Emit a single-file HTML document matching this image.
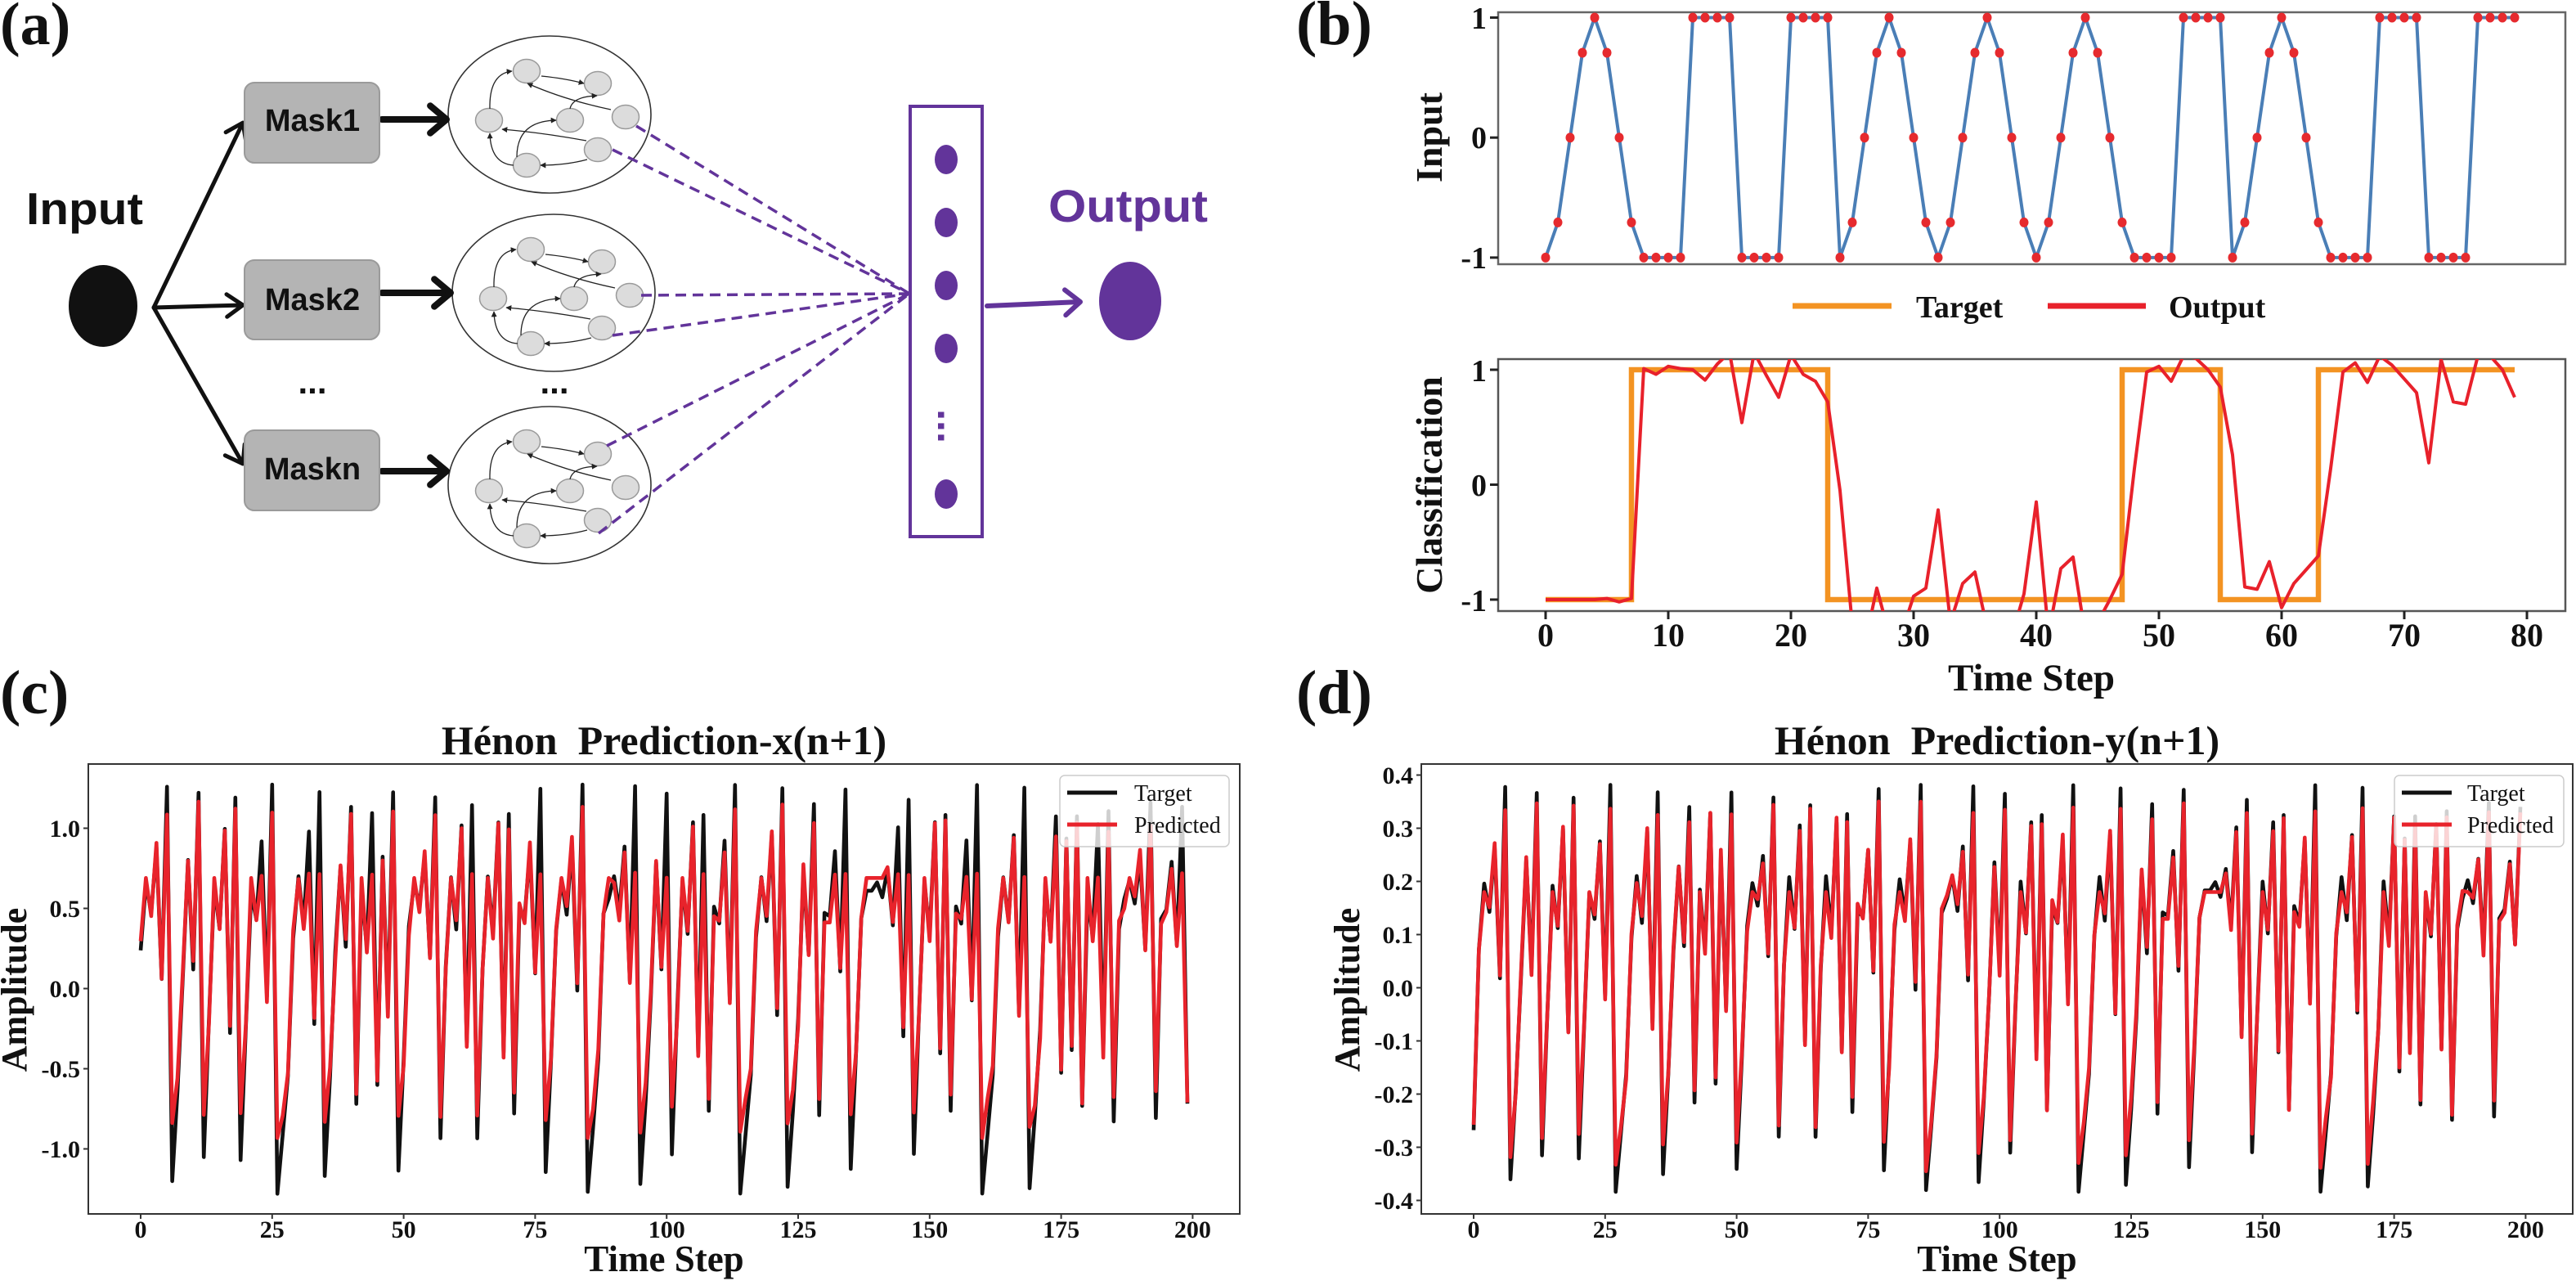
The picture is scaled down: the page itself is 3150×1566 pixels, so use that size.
<!DOCTYPE html>
<html><head><meta charset="utf-8"><title>Figure</title>
<style>
html,body{margin:0;padding:0;background:#fff;width:3150px;height:1566px;overflow:hidden}
svg{display:block}
.tb{font-family:"Liberation Serif","Times New Roman",serif;font-weight:bold;fill:#111}
.tr{font-family:"Liberation Serif","Times New Roman",serif;font-weight:normal;fill:#111}
.sb{font-family:"Liberation Sans",Arial,sans-serif;font-weight:bold}
</style></head><body>
<svg id="s" xmlns="http://www.w3.org/2000/svg" width="3150" height="1566" viewBox="0 0 3150 1566">
<defs>
 <marker id="ah" viewBox="0 0 10 10" refX="9" refY="5" markerWidth="7" markerHeight="7" markerUnits="userSpaceOnUse" orient="auto"><path d="M0,0 L10,5 L0,10 z" fill="#222"/></marker>
 <clipPath id="cb2"><rect x="1832" y="439" width="1305" height="308"/></clipPath>
 <clipPath id="cc"><rect x="108" y="934" width="1408" height="550"/></clipPath>
 <clipPath id="cd"><rect x="1738" y="934" width="1408" height="550"/></clipPath>
</defs>
<rect width="3150" height="1566" fill="#fff"/>

<!-- ===== Panel (a) ===== -->
<g id="pa"></g>
<rect x="299" y="101" width="165" height="98" rx="12" fill="#b4b4b4" stroke="#9a9a9a" stroke-width="2"/>
<rect x="299" y="318" width="165" height="97" rx="12" fill="#b4b4b4" stroke="#9a9a9a" stroke-width="2"/>
<rect x="299" y="526" width="165" height="98" rx="12" fill="#b4b4b4" stroke="#9a9a9a" stroke-width="2"/>
<ellipse cx="126" cy="374" rx="42" ry="50" fill="#111"/>
<rect x="1113" y="130" width="88" height="526" fill="none" stroke="#62349a" stroke-width="4"/>
<ellipse cx="1157" cy="195" rx="14" ry="18" fill="#62349a"/>
<ellipse cx="1157" cy="272" rx="14" ry="18" fill="#62349a"/>
<ellipse cx="1157" cy="349" rx="14" ry="18" fill="#62349a"/>
<ellipse cx="1157" cy="426" rx="14" ry="18" fill="#62349a"/>
<ellipse cx="1157" cy="604" rx="14" ry="18" fill="#62349a"/>
<ellipse cx="1382" cy="368" rx="38" ry="48" fill="#62349a"/>

<text class="tb" x="0" y="54" font-size="74">(a)</text>
<text class="sb" x="32" y="274" font-size="55" fill="#111" textLength="143" lengthAdjust="spacingAndGlyphs">Input</text>
<text class="sb" x="382" y="160" font-size="38" fill="#111" text-anchor="middle">Mask1</text>
<text class="sb" x="382" y="379" font-size="38" fill="#111" text-anchor="middle">Mask2</text>
<text class="sb" x="382" y="586" font-size="38" fill="#111" text-anchor="middle">Maskn</text>
<text class="sb" x="382" y="481" font-size="42" fill="#111" text-anchor="middle">...</text>
<text class="sb" x="678" y="481" font-size="42" fill="#111" text-anchor="middle">...</text>
<text class="sb" font-size="50" fill="#62349a" text-anchor="middle" transform="translate(1147,521) rotate(90)">...</text>
<text class="sb" x="1282" y="271" font-size="56" fill="#62349a" textLength="195" lengthAdjust="spacingAndGlyphs">Output</text>

<!-- ===== Panel (b) ===== -->
<g id="pb"></g>
<text class="tb" x="1585" y="54" font-size="76">(b)</text>
<g class="tb" font-size="38" text-anchor="end">
 <text x="1818" y="35">1</text>
 <text x="1818" y="181">0</text>
 <text x="1818" y="328">-1</text>
 <text x="1818" y="466">1</text>
 <text x="1818" y="606">0</text>
 <text x="1818" y="747">-1</text>
</g>
<text class="tb" font-size="46" text-anchor="middle" transform="translate(1763,168) rotate(-90)">Input</text>
<text class="tb" font-size="46" text-anchor="middle" transform="translate(1763,593) rotate(-90)">Classification</text>
<text class="tb" x="2343" y="388" font-size="38">Target</text>
<text class="tb" x="2652" y="388" font-size="38">Output</text>
<g class="tb" font-size="40" text-anchor="middle">
 <text x="1890" y="790">0</text>
 <text x="2040" y="790">10</text>
 <text x="2190" y="790">20</text>
 <text x="2340" y="790">30</text>
 <text x="2490" y="790">40</text>
 <text x="2640" y="790">50</text>
 <text x="2790" y="790">60</text>
 <text x="2940" y="790">70</text>
 <text x="3090" y="790">80</text>
</g>
<text class="tb" x="2484" y="844" font-size="47" text-anchor="middle">Time Step</text>

<!-- ===== Panel (c) ===== -->
<g id="pc"></g>
<text class="tb" x="0" y="872" font-size="76">(c)</text>
<text class="tb" x="812" y="922" font-size="50" text-anchor="middle" style="white-space:pre">Hénon  Prediction-x(n+1)</text>
<g class="tb" font-size="30" text-anchor="middle">
 <text x="172" y="1513">0</text>
 <text x="332.8" y="1513">25</text>
 <text x="493.6" y="1513">50</text>
 <text x="654.4" y="1513">75</text>
 <text x="815.2" y="1513">100</text>
 <text x="976" y="1513">125</text>
 <text x="1136.8" y="1513">150</text>
 <text x="1297.6" y="1513">175</text>
 <text x="1458.4" y="1513">200</text>
</g>
<g class="tb" font-size="30" text-anchor="end">
 <text x="98" y="1023">1.0</text>
 <text x="98" y="1121">0.5</text>
 <text x="98" y="1219">0.0</text>
 <text x="98" y="1317">-0.5</text>
 <text x="98" y="1415">-1.0</text>
</g>
<text class="tb" font-size="44" text-anchor="middle" transform="translate(32,1210) rotate(-90)">Amplitude</text>
<text class="tb" x="812" y="1554" font-size="45" text-anchor="middle">Time Step</text>
<text class="tr" x="1387" y="979" font-size="28">Target</text>
<text class="tr" x="1387" y="1018" font-size="28">Predicted</text>

<!-- ===== Panel (d) ===== -->
<g id="pd"></g>
<text class="tb" x="1585" y="872" font-size="76">(d)</text>
<text class="tb" x="2442" y="922" font-size="50" text-anchor="middle" style="white-space:pre">Hénon  Prediction-y(n+1)</text>
<g class="tb" font-size="30" text-anchor="middle">
 <text x="1802" y="1513">0</text>
 <text x="1962.8" y="1513">25</text>
 <text x="2123.6" y="1513">50</text>
 <text x="2284.4" y="1513">75</text>
 <text x="2445.2" y="1513">100</text>
 <text x="2606" y="1513">125</text>
 <text x="2766.8" y="1513">150</text>
 <text x="2927.6" y="1513">175</text>
 <text x="3088.4" y="1513">200</text>
</g>
<g class="tb" font-size="30" text-anchor="end">
 <text x="1728" y="958">0.4</text>
 <text x="1728" y="1023">0.3</text>
 <text x="1728" y="1088">0.2</text>
 <text x="1728" y="1153">0.1</text>
 <text x="1728" y="1218">0.0</text>
 <text x="1728" y="1283">-0.1</text>
 <text x="1728" y="1348">-0.2</text>
 <text x="1728" y="1413">-0.3</text>
 <text x="1728" y="1478">-0.4</text>
</g>
<text class="tb" font-size="44" text-anchor="middle" transform="translate(1662,1210) rotate(-90)">Amplitude</text>
<text class="tb" x="2442" y="1554" font-size="45" text-anchor="middle">Time Step</text>
<text class="tr" x="3017" y="979" font-size="28">Target</text>
<text class="tr" x="3017" y="1018" font-size="28">Predicted</text>
</svg>

<script>
(function(){
const NS='http://www.w3.org/2000/svg';
function el(tag,a,p){const e=document.createElementNS(NS,tag);for(const k in a)e.setAttribute(k,a[k]);p.appendChild(e);return e;}
function pts(arr){return arr.map(p=>p[0].toFixed(1)+','+p[1].toFixed(1)).join(' ');}
function line(p,x1,y1,x2,y2,st,w,extra){return el('line',Object.assign({x1:x1,y1:y1,x2:x2,y2:y2,stroke:st,'stroke-width':w},extra||{}),p);}
function arrow(p,x1,y1,x2,y2,w,col,hl,ang){
  const dx=x2-x1,dy=y2-y1,L=Math.hypot(dx,dy),ux=dx/L,uy=dy/L;
  line(p,x1,y1,x2-ux*w*0.6,y2-uy*w*0.6,col,w,{'stroke-linecap':'round'});
  const a=ang*Math.PI/180,q=[];
  for(const s of [1,-1]){const c=Math.cos(a),sn=Math.sin(a)*s;const vx=ux*c-uy*sn,vy=ux*sn+uy*c;q.push([x2-hl*vx,y2-hl*vy]);}
  el('polyline',{points:pts([q[0],[x2,y2],q[1]]),fill:'none',stroke:col,'stroke-width':w,'stroke-linejoin':'round','stroke-linecap':'round'},p);
}
const P='#62349a';

/* ---------- panel (a) ---------- */
const A=document.getElementById('pa');
const nodes=[[-28,-53],[59,-38],[-74,7],[25,7],[93,3],[59,43],[-28,62]];
const edges=['M-10,-47 Q20,-44 42,-38','M75,-6 Q18,-18 -27,-38','M25,-7 Q28,-22 58,-23','M-73,-7 Q-74,-50 -46,-53',
 'M45,32 Q-10,22 -58,18','M-40,52 Q-40,8 8,7','M46,55 Q20,62 -11,62','M-44,62 Q-72,60 -73,23'];
for(const c of [[672,140],[677,358],[672,593]]){
  const g=el('g',{transform:'translate('+c[0]+','+c[1]+')'},A);
  el('ellipse',{cx:0,cy:0,rx:124,ry:96,fill:'#fff',stroke:'#333','stroke-width':1.6},g);
  for(const n of nodes) el('ellipse',{cx:n[0],cy:n[1],rx:16.5,ry:14.5,fill:'#dcdcdc',stroke:'#9a9a9a','stroke-width':1.5},g);
  for(const d of edges) el('path',{d:d,fill:'none',stroke:'#222','stroke-width':1.3,'marker-end':'url(#ah)'},g);
}
for(const s of [[778,154],[749,183],[784,361],[749,410],[742,545],[732,652]])
  el('line',{x1:s[0],y1:s[1],x2:1112,y2:359,stroke:P,'stroke-width':3.5,'stroke-dasharray':'13 8'},A);
arrow(A,188,376,297,150,5,'#111',24,35);
arrow(A,188,376,297,373,5,'#111',24,35);
arrow(A,188,376,297,567,5,'#111',24,35);
arrow(A,467,146,546,146,8,'#111',26,40);
arrow(A,467,358,551,358,8,'#111',26,40);
arrow(A,467,576,546,576,8,'#111',26,40);
arrow(A,1207,374,1321,369,6,P,24,40);

/* ---------- panel (b) ---------- */
const B=document.getElementById('pb');
const bx=t=>1890+15*t, by1=v=>168.2-146.7*v, by2=v=>592.5-140.5*v;
const sine=[-1,-0.7071,0,0.7071,1,0.7071,0,-0.7071], sq=[-1,-1,-1,-1,1,1,1,1];
const blocks=[0,1,1,0,0,0,1,0,1,1];
const inp=[],cls=[];
blocks.forEach(b=>{for(let i=0;i<8;i++){inp.push(b?sq[i]:sine[i]);cls.push(b?1:-1);}});
el('rect',{x:1832,y:15,width:1305,height:308,fill:'none',stroke:'#666','stroke-width':2.5},B);
el('polyline',{points:pts(inp.map((v,t)=>[bx(t),by1(v)])),fill:'none',stroke:'#4a7eb6','stroke-width':4,'stroke-linejoin':'round'},B);
inp.forEach((v,t)=>el('ellipse',{cx:bx(t),cy:by1(v),rx:5.5,ry:6,fill:'#e62a2e'},B));
for(const v of [1,0,-1]) line(B,1822,by1(v),1832,by1(v),'#222',3);
line(B,2192,374,2313,374,'#f39322',7);
line(B,2504,374,2624,374,'#e8212b',7);
el('rect',{x:1832,y:439,width:1305,height:308,fill:'none',stroke:'#555','stroke-width':2.5},B);
const tg=[];
for(let t=0;t<80;t++){tg.push([bx(t),by2(cls[t])]);if(t<79&&cls[t+1]!==cls[t])tg.push([bx(t),by2(cls[t+1])]);}
el('polyline',{points:pts(tg),fill:'none',stroke:'#f39322','stroke-width':6.5,'stroke-linejoin':'miter'},B);
const outv=[-1,-1,-1,-1,-1,-0.99,-1.02,-0.99,1.01,0.96,1.03,1.01,1.0,0.91,1.05,1.15,0.54,1.15,0.95,0.76,1.13,0.96,0.9,0.72,
-0.05,-1.22,-1.4,-0.9,-1.3,-1.3,-0.97,-0.9,-0.22,-1.2,-0.86,-0.76,-1.25,-1.4,-1.32,-0.95,-0.15,-1.3,-0.73,-0.63,-1.31,-1.2,-1.0,-0.78,
0.14,0.98,1.03,0.9,1.12,1.1,1.0,0.85,0.26,-0.89,-0.91,-0.67,-1.07,-0.86,-0.74,-0.62,0.14,0.98,1.06,0.89,1.12,1.04,0.92,0.8,
0.19,1.09,0.72,0.7,1.12,1.12,1.0,0.76];
const gcl=el('g',{'clip-path':'url(#cb2)'},B);
el('polyline',{points:pts(outv.map((v,t)=>[bx(t),by2(v)])),fill:'none',stroke:'#e8212b','stroke-width':4,'stroke-linejoin':'round'},gcl);
for(const v of [1,0,-1]) line(B,1822,by2(v),1832,by2(v),'#222',3);
for(let t=0;t<=80;t+=10) line(B,bx(t),747,bx(t),757,'#222',3);

/* ---------- Henon data: choose orbit window matching reference trough positions ---------- */
function rng(a){return function(){a|=0;a=a+0x6D2B79F5|0;let t=Math.imul(a^a>>>15,1|a);t=t+Math.imul(t^t>>>7,61|t)^t;return((t^t>>>14)>>>0)/4294967296;};}
const R=rng(12345);
const N=300000;
const ox=new Float64Array(N+200), oy=new Float64Array(N+200);
let hx=0.1,hy=0.1;
for(let i=0;i<1000;i++){const n=1-1.4*hx*hx+hy;hy=0.3*hx;hx=n;}
for(let i=0;i<N+200;i++){ox[i]=hx;oy[i]=hy;const n=1-1.4*hx*hx+hy;hy=0.3*hx;hx=n;}
const C=[[0,-0.62,1],[8,-1.15,1],[20,-1.1,1],[27,-1.16,1],[35,-1.25,1],[41,-0.75,0.5],[64,-1.1,1],[78,-1.3,1],[87,-1.3,1],
[102,-1.28,1],[114,-1.12,1],[123,-1.25,1],[129,-1.0,1],[147,-1.05,1],[160,-1.3,1],[169,-0.85,0.5],[179,-1.27,1],[198,-1.05,1],[199,-0.15,1]];
let best=0,be=1e18;
for(let s=0;s<N;s++){
  let e=0;
  for(let k=0;k<C.length;k++){const c=C[k];const d=ox[s+c[0]]-c[1];e+=c[2]*d*d;if(e>=be)break;}
  if(e<be){
    /* penalize long near-fixed-point plateaus */
    let run=0,mx=0;
    for(let t=0;t<200;t++){if(Math.abs(ox[s+t]-0.63)<0.12){run++;if(run>mx)mx=run;}else run=0;}
    if(mx>7) e+=0.5*(mx-7);
    if(e<be){be=e;best=s;}
  }
}
const X=[],Y=[];
for(let t=0;t<200;t++){X.push(ox[best+t]);Y.push(oy[best+t]);}
function predX(v){
  if(Math.abs(v-0.63)<0.07) return 0.69;
  let r=v;
  if(v<-0.6) r=-0.6+(v+0.6)*0.45;
  else if(v>0.85){ if(R()<0.3) return 0.71+(R()-0.5)*0.04; r=0.85+(v-0.85)*0.7; }
  return r+(R()-0.5)*0.12;
}
function predY(v){
  if(Math.abs(v-0.19)<0.02) return 0.18;
  let r=v;
  if(v<-0.18) r=-0.18+(v+0.18)*0.75; else if(v>0.3) r=0.3+(v-0.3)*0.55;
  return r+(R()-0.5)*0.03;
}
const PX=X.map(predX), PY=Y.map(predY);

function panel(G,left,x0,yz,ys,clip,T,Pr,yticks,legX){
  const xs=t=>x0+6.432*t, yv=v=>yz-ys*v;
  const g=el('g',{'clip-path':'url('+clip+')'},G);
  el('polyline',{points:pts(T.map((v,t)=>[xs(t),yv(v)])),fill:'none',stroke:'#111','stroke-width':4.6,'stroke-linejoin':'round'},g);
  el('polyline',{points:pts(Pr.map((v,t)=>[xs(t),yv(v)])),fill:'none',stroke:'#e8232b','stroke-width':4.6,'stroke-linejoin':'round'},g);
  el('rect',{x:left,y:934,width:1408,height:550,fill:'none',stroke:'#333','stroke-width':2},G);
  for(let t=0;t<=200;t+=25) line(G,xs(t),1484,xs(t),1490,'#333',2);
  for(const v of yticks) line(G,left-6,yv(v),left,yv(v),'#333',2);
  el('rect',{x:legX,y:948,width:207,height:87,rx:6,fill:'#fff','fill-opacity':0.8,stroke:'#cccccc','stroke-width':1.5},G);
  line(G,legX+9,969,legX+70,969,'#111',5);
  line(G,legX+9,1008,legX+70,1008,'#e8232b',5);
}
panel(document.getElementById('pc'),108,172,1208.5,196,'#cc',X,PX,[-1,-0.5,0,0.5,1],1296);
panel(document.getElementById('pd'),1738,1802,1207.5,650,'#cd',Y,PY,[-0.4,-0.3,-0.2,-0.1,0,0.1,0.2,0.3,0.4],2928);
})();
</script>
</body></html>
